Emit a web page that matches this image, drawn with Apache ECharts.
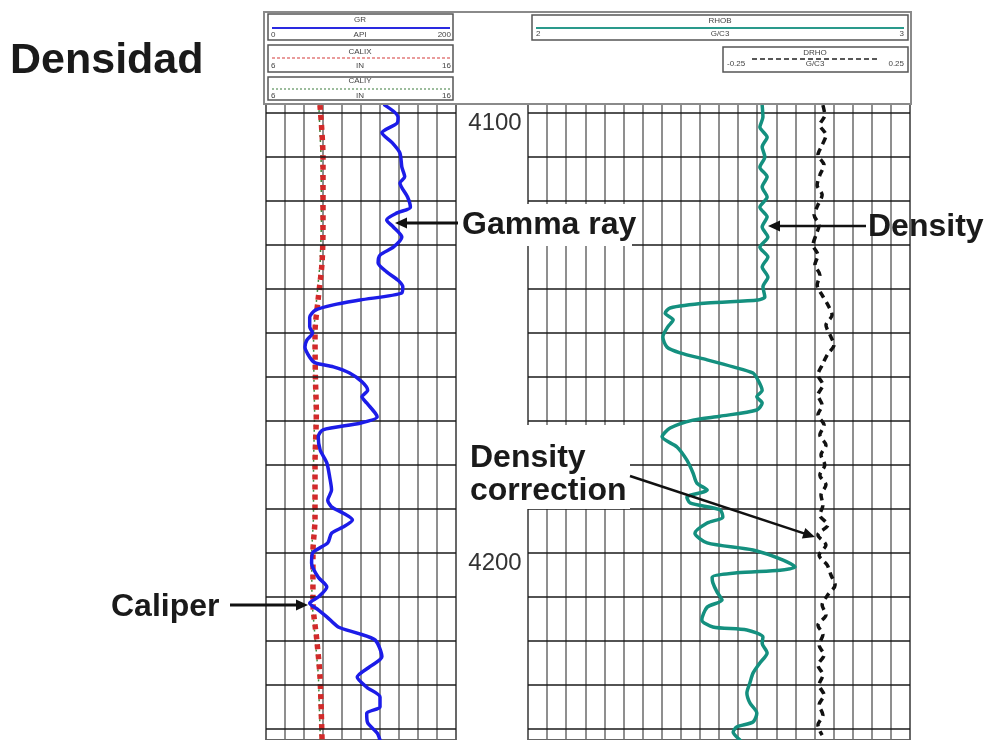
<!DOCTYPE html>
<html>
<head>
<meta charset="utf-8">
<title>Densidad</title>
<script src="https://cdn.jsdelivr.net/npm/echarts@6.0.0/dist/echarts.min.js"></script>
<style>
  html, body { margin: 0; padding: 0; background: #fff; }
  #chart { width: 990px; height: 740px; }
</style>
</head>
<body>
<div id="chart"></div>
<script>
// depth range shown (ft) and depth grid
var depthTop = 4097.95;
var depthBottom = 4242.5;
var depthTicks = [4100, 4110, 4120, 4130, 4140, 4150, 4160, 4170, 4180, 4190, 4200, 4210, 4220, 4230, 4240];
var depthLabels = [4100, 4200];

// GR (API), [depth, value]
var grData = [
  [4098.2,125],[4100.9,139],[4102.3,138],[4104.5,122],[4106.8,133],[4109.1,141],[4112.3,143],[4114.5,146],
  [4115.9,141],[4119.1,149],[4121.4,152],[4122.7,138],[4124.3,127],[4125.9,134],[4128.2,143],[4130.5,134],
  [4132.3,120],[4134.1,118],[4136.1,127],[4138.0,139],[4139.5,144],[4140.9,143],[4142.5,99],[4143.6,71],
  [4144.8,52],[4146.4,46],[4148.6,46],[4150.0,49],[4151.6,43],[4153.2,41],[4155.5,46],[4156.8,52],
  [4157.7,71],[4159.1,88],[4161.1,101],[4163.0,107],[4164.5,101],[4165.9,106],[4168.2,115],[4169.1,117],
  [4170.5,99],[4172.0,60],[4173.6,55],[4176.6,57],[4179.5,64],[4182.7,67],[4185.7,69],[4188.0,65],
  [4189.5,69],[4190.9,81],[4192.5,91],[4194.1,81],[4195.5,69],[4197.7,65],[4200.0,49],[4202.3,48],
  [4205.5,55],[4207.7,64],[4210.0,55],[4211.4,46],[4212.9,55],[4214.5,64],[4216.8,76],[4218.2,96],
  [4219.8,115],[4223.6,122],[4225.9,109],[4228.2,96],[4230.5,106],[4232.7,120],[4235.0,120],[4236.4,106],
  [4238.6,107],[4240.9,117],[4242.5,120]
];

// caliper X / Y (in)
var calxData = [
  [4098.2,8.84],[4110,9.0],[4125,9.0],[4134,8.95],[4142.5,8.74],[4150,8.58],[4160,8.6],[4168,8.65],
  [4180,8.58],[4192,8.58],[4200,8.47],[4211,8.47],[4220,8.68],[4228,8.84],[4242.5,8.95]
];
var calyData = [
  [4098.2,8.78],[4110,8.9],[4125,8.92],[4134,8.85],[4142.5,8.66],[4150,8.5],[4160,8.52],[4168,8.56],
  [4180,8.5],[4192,8.5],[4200,8.4],[4211,8.42],[4220,8.6],[4228,8.76],[4242.5,8.86]
];

// RHOB (g/c3)
var rhobData = [
  [4098.2,2.613],[4100.9,2.615],[4103.2,2.607],[4105.5,2.626],[4107.7,2.613],[4110.0,2.620],[4112.3,2.607],
  [4114.5,2.626],[4116.8,2.613],[4119.1,2.626],[4121.4,2.607],[4123.6,2.626],[4125.9,2.613],[4128.2,2.628],
  [4130.5,2.607],[4132.7,2.628],[4135.0,2.613],[4137.3,2.628],[4139.5,2.615],[4141.8,2.620],[4142.5,2.602],
  [4143.2,2.469],[4144.3,2.372],[4145.5,2.359],[4147.0,2.380],[4148.6,2.366],[4150.9,2.353],[4153.2,2.364],
  [4154.5,2.398],[4156.1,2.469],[4157.7,2.537],[4159.1,2.589],[4160.7,2.602],[4163.0,2.613],[4164.5,2.599],
  [4165.9,2.613],[4167.5,2.599],[4168.9,2.503],[4169.8,2.432],[4171.6,2.372],[4173.6,2.351],[4175.9,2.390],
  [4178.9,2.416],[4181.8,2.432],[4184.1,2.442],[4185.7,2.469],[4187.3,2.416],[4188.6,2.424],[4190.2,2.503],
  [4191.8,2.510],[4193.2,2.469],[4195.5,2.437],[4197.7,2.469],[4199.3,2.589],[4201.6,2.668],[4203.2,2.699],
  [4203.9,2.660],[4204.5,2.547],[4205.5,2.482],[4206.8,2.484],[4208.9,2.495],[4210.7,2.508],[4212.3,2.469],
  [4215.2,2.455],[4216.8,2.484],[4217.5,2.573],[4219.1,2.615],[4220.5,2.613],[4222.7,2.626],[4225.0,2.607],
  [4227.3,2.589],[4229.5,2.581],[4231.8,2.573],[4234.1,2.581],[4236.4,2.599],[4238.4,2.589],[4239.5,2.547],
  [4240.7,2.537],[4242.5,2.555]
];

// DRHO (g/c3)
var drhoData = [
  [4098.2,0.022],[4100.5,0.027],[4102.7,0.014],[4105.0,0.030],[4107.3,0.020],[4109.5,0.009],[4111.8,0.025],
  [4114.1,0.014],[4116.4,0.007],[4118.6,0.020],[4120.9,0.009],[4123.2,-0.001],[4125.5,0.012],[4127.7,0.004],
  [4130.0,-0.004],[4132.3,0.009],[4134.5,0.001],[4136.8,0.014],[4139.1,0.007],[4141.4,0.020],[4143.6,0.035],
  [4145.9,0.046],[4148.2,0.030],[4150.5,0.041],[4152.7,0.051],[4155.0,0.033],[4157.3,0.020],[4159.5,0.009],
  [4161.8,0.022],[4164.1,0.009],[4166.4,0.020],[4168.6,0.009],[4170.9,0.025],[4173.2,0.014],[4175.5,0.030],
  [4177.7,0.017],[4180.0,0.027],[4182.3,0.014],[4184.5,0.030],[4186.8,0.017],[4189.1,0.022],[4191.4,0.014],
  [4193.6,0.035],[4195.9,0.009],[4198.2,0.030],[4200.5,0.012],[4202.7,0.033],[4205.0,0.043],[4207.3,0.054],
  [4209.5,0.035],[4211.8,0.020],[4214.1,0.030],[4216.4,0.009],[4218.6,0.022],[4220.9,0.012],[4223.2,0.025],
  [4225.5,0.009],[4227.7,0.022],[4230.0,0.012],[4232.3,0.025],[4234.5,0.012],[4236.8,0.022],[4239.1,0.009],
  [4241.4,0.020]
];

var chart = echarts.init(document.getElementById('chart'));

// [depth, value] -> [value, depth]
function xy(arr) {
  return arr.map(function (p) { return [p[1], p[0]]; });
}

var FONT = '"Liberation Sans", Arial, sans-serif';
var vLine = { color: '#6a6a6a', width: 1.5 };

function hiddenX(grid, min, max, interval, split) {
  return {
    type: 'value', gridIndex: grid, min: min, max: max, interval: interval,
    position: 'top',
    axisLine: { show: false }, axisTick: { show: false }, axisLabel: { show: false },
    splitLine: { show: split, lineStyle: vLine }
  };
}

function depthGridLines(xi, yi) {
  return {
    type: 'line', xAxisIndex: xi, yAxisIndex: yi, data: [], z: 1, silent: true,
    markLine: {
      silent: true, symbol: 'none', animation: false,
      label: { show: false },
      lineStyle: { color: '#1a1a1a', width: 1.5, type: 'solid' },
      data: depthTicks.map(function (d) { return { yAxis: d }; })
    }
  };
}

// ---- header boxes, annotations ----
var g = [];
function rect(x, y, w, h, stroke, lw, z) {
  g.push({ type: 'rect', z: z || 100, shape: { x: x, y: y, width: w, height: h },
    style: { fill: '#fff', stroke: stroke, lineWidth: lw } });
}
function txt(x, y, s, font, align, color, z) {
  g.push({ type: 'text', z: z || 110, x: x, y: y,
    style: { text: s, font: font, fill: color || '#1a1a1a', align: align || 'left', verticalAlign: 'middle' } });
}
function hline(x1, x2, y, color, w, dash) {
  g.push({ type: 'line', z: 105, shape: { x1: x1, y1: y, x2: x2, y2: y },
    style: { stroke: color, lineWidth: w, lineDash: dash || null } });
}
function arrow(x1, y1, x2, y2, w) {
  var dx = x2 - x1, dy = y2 - y1, len = Math.sqrt(dx * dx + dy * dy);
  var ux = dx / len, uy = dy / len, hl = 12, hw = 5.5;
  var bx = x2 - ux * hl, by = y2 - uy * hl;
  g.push({ type: 'line', z: 120, shape: { x1: x1, y1: y1, x2: bx + ux * 2, y2: by + uy * 2 },
    style: { stroke: '#111', lineWidth: w } });
  g.push({ type: 'polygon', z: 120,
    shape: { points: [[x2, y2], [bx - uy * hw, by + ux * hw], [bx + uy * hw, by - ux * hw]] },
    style: { fill: '#111' } });
}

var small = '8px ' + FONT;
// outer header frame
rect(264, 12, 647, 92, '#8a8a8a', 2, 90);
// GR
rect(268, 14, 185, 26, '#555', 1.5);
hline(272, 450, 28, '#2a2ae0', 2);
txt(360, 20, 'GR', small, 'center', '#444');
txt(271, 35, '0', small, 'left', '#444');
txt(360, 35, 'API', small, 'center', '#444');
txt(451, 35, '200', small, 'right', '#444');
// CALIX
rect(268, 45, 185, 27, '#555', 1.5);
hline(272, 450, 58, '#d43a3a', 1.2, [3, 2]);
txt(360, 52, 'CALIX', small, 'center', '#444');
txt(271, 66, '6', small, 'left', '#444');
txt(360, 66, 'IN', small, 'center', '#444');
txt(451, 66, '16', small, 'right', '#444');
// CALIY
rect(268, 77, 185, 23, '#555', 1.5);
hline(272, 450, 89, '#3a7a3a', 1.2, [2, 2]);
txt(360, 81, 'CALIY', small, 'center', '#444');
txt(271, 96, '6', small, 'left', '#444');
txt(360, 96, 'IN', small, 'center', '#444');
txt(451, 96, '16', small, 'right', '#444');
// RHOB
rect(532, 15, 376, 25, '#555', 1.5);
hline(536, 904, 28, '#2a9a8c', 2);
txt(720, 21, 'RHOB', small, 'center', '#444');
txt(536, 34, '2', small, 'left', '#444');
txt(720, 34, 'G/C3', small, 'center', '#444');
txt(904, 34, '3', small, 'right', '#444');
// DRHO
rect(723, 47, 185, 25, '#555', 1.5);
hline(752, 880, 59, '#222', 1.5, [5, 3]);
txt(815, 53, 'DRHO', small, 'center', '#444');
txt(727, 64, '-0.25', small, 'left', '#444');
txt(815, 64, 'G/C3', small, 'center', '#444');
txt(904, 64, '0.25', small, 'right', '#444');

// white label panels over the grid
g.push({ type: 'rect', z: 100, shape: { x: 459, y: 204, width: 173, height: 42 }, style: { fill: '#fff' } });
g.push({ type: 'rect', z: 100, shape: { x: 459, y: 425, width: 171, height: 84 }, style: { fill: '#fff' } });

var big = 'bold 32px ' + FONT;
txt(10, 61, 'Densidad', 'bold 43px ' + FONT);
txt(462, 225, 'Gamma ray', big);
txt(868, 227, 'Density', big);
txt(470, 458, 'Density', big);
txt(470, 491, 'correction', big);
txt(111, 607, 'Caliper', big);

arrow(458, 223, 395, 223, 3);
arrow(866, 226, 768, 226, 2.5);
arrow(230, 605, 308, 605, 3);
arrow(630, 476, 815, 537, 2.5);

chart.setOption({
  backgroundColor: '#fff',
  animation: false,
  grid: [
    { left: 266, top: 104, width: 190, height: 636, show: true, borderColor: '#333', borderWidth: 1.5, backgroundColor: '#fff' },
    { left: 528, top: 104, width: 382, height: 636, show: true, borderColor: '#333', borderWidth: 1.5, backgroundColor: '#fff' }
  ],
  xAxis: [
    hiddenX(0, 0, 200, 20, true),        // GR
    hiddenX(0, 6, 16, 1, false),          // caliper
    hiddenX(1, 2, 3, 0.05, true),         // RHOB
    hiddenX(1, -0.75, 0.25, 0.25, false)  // DRHO (right half of track)
  ],
  yAxis: [
    { type: 'value', gridIndex: 0, inverse: true, min: depthTop, max: depthBottom,
      axisLine: { show: false }, axisTick: { show: false }, axisLabel: { show: false }, splitLine: { show: false } },
    { type: 'value', gridIndex: 1, inverse: true, min: depthTop, max: depthBottom, position: 'left',
      axisLine: { show: false }, axisTick: { show: false }, splitLine: { show: false },
      axisLabel: { show: true, customValues: depthLabels, margin: 33, align: 'center', verticalAlign: 'top',
        formatter: function (v) { return String(v); },
        fontFamily: 'Liberation Sans', fontSize: 24, color: '#333', padding: [-2, 0, 0, 0] } }
  ],
  graphic: { elements: g },
  series: [
    depthGridLines(0, 0),
    depthGridLines(2, 1),
    { name: 'CALIY', type: 'line', xAxisIndex: 1, yAxisIndex: 0, data: xy(calyData), showSymbol: false, z: 3,
      lineStyle: { color: '#3c8a3c', width: 1.5, type: [2, 3] } },
    { name: 'CALIX', type: 'line', xAxisIndex: 1, yAxisIndex: 0, data: xy(calxData), showSymbol: false, z: 4,
      smooth: 0.3, lineStyle: { color: '#d22a2a', width: 5.5, type: [5, 5], cap: 'butt' } },
    { name: 'GR', type: 'line', xAxisIndex: 0, yAxisIndex: 0, data: xy(grData), showSymbol: false, z: 5,
      smooth: 0.25, lineStyle: { color: '#1c1ce8', width: 3.5, join: 'round', cap: 'round' } },
    { name: 'RHOB', type: 'line', xAxisIndex: 2, yAxisIndex: 1, data: xy(rhobData), showSymbol: false, z: 5,
      smooth: 0.25, lineStyle: { color: '#14907f', width: 3.5, join: 'round', cap: 'round' } },
    { name: 'DRHO', type: 'line', xAxisIndex: 3, yAxisIndex: 1, data: xy(drhoData), showSymbol: false, z: 5,
      smooth: 0.3, lineStyle: { color: '#111', width: 3.5, type: [7, 5] } }
  ]
});
</script>
</body>
</html>
